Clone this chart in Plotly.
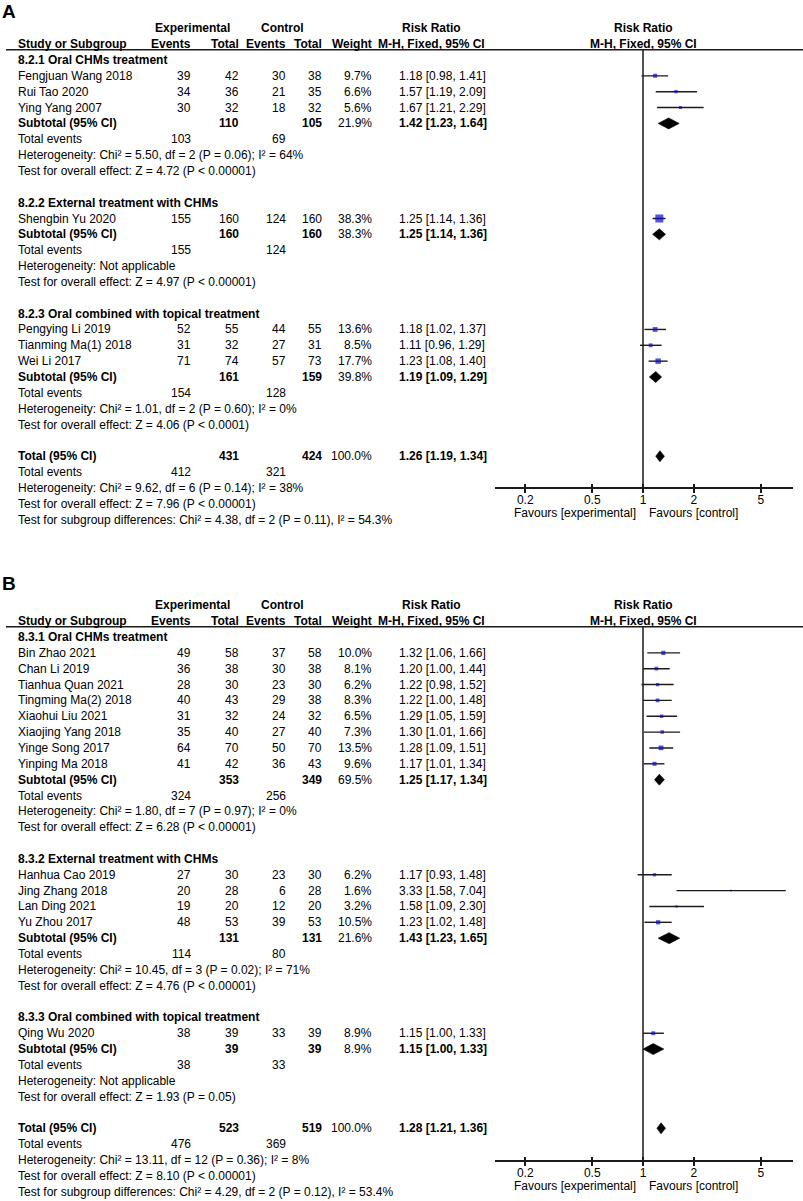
import numpy as np
import plotly.graph_objects as go

FIG_W, FIG_H = 803, 1201
FONT = "Arial, 'Liberation Sans', Helvetica, sans-serif"

# ---------------- Panel A data ----------------
A_group_names = ["8.2.1 Oral CHMs treatment",
                 "8.2.2 External treatment with CHMs",
                 "8.2.3 Oral combined with topical treatment"]
A_studies = [["Fengjuan Wang 2018", "Rui Tao 2020", "Ying Yang 2007"],
             ["Shengbin Yu 2020"],
             ["Pengying Li 2019", "Tianming Ma(1) 2018", "Wei Li 2017"]]
A_exp_events = [[39, 34, 30], [155], [52, 31, 71]]
A_exp_total = [[42, 36, 32], [160], [55, 32, 74]]
A_ctl_events = [[30, 21, 18], [124], [44, 27, 57]]
A_ctl_total = [[38, 35, 32], [160], [55, 31, 73]]
A_weight = [[9.7, 6.6, 5.6], [38.3], [13.6, 8.5, 17.7]]
A_rr = [[1.18, 1.57, 1.67], [1.25], [1.18, 1.11, 1.23]]
A_lo = [[0.98, 1.19, 1.21], [1.14], [1.02, 0.96, 1.08]]
A_hi = [[1.41, 2.09, 2.29], [1.36], [1.37, 1.29, 1.40]]
A_sub_exp_total = [110, 160, 161]
A_sub_ctl_total = [105, 160, 159]
A_sub_weight = [21.9, 38.3, 39.8]
A_sub_rr = [1.42, 1.25, 1.19]
A_sub_lo = [1.23, 1.14, 1.09]
A_sub_hi = [1.64, 1.36, 1.29]
A_sub_exp_events = [103, 155, 154]
A_sub_ctl_events = [69, 124, 128]
A_sub_het = ["Heterogeneity: Chi² = 5.50, df = 2 (P = 0.06); I² = 64%",
             "Heterogeneity: Not applicable",
             "Heterogeneity: Chi² = 1.01, df = 2 (P = 0.60); I² = 0%"]
A_sub_test = ["Test for overall effect: Z = 4.72 (P &lt; 0.00001)",
              "Test for overall effect: Z = 4.97 (P &lt; 0.00001)",
              "Test for overall effect: Z = 4.06 (P &lt; 0.0001)"]
A_tot = [431, 424, 100.0, 1.26, 1.19, 1.34]
A_tot_events = [412, 321]
A_tot_texts = ["Heterogeneity: Chi² = 9.62, df = 6 (P = 0.14); I² = 38%",
               "Test for overall effect: Z = 7.96 (P &lt; 0.00001)",
               "Test for subgroup differences: Chi² = 4.38, df = 2 (P = 0.11), I² = 54.3%"]

# ---------------- Panel B data ----------------
B_group_names = ["8.3.1 Oral CHMs treatment",
                 "8.3.2 External treatment with CHMs",
                 "8.3.3 Oral combined with topical treatment"]
B_studies = [["Bin Zhao 2021", "Chan Li 2019", "Tianhua Quan 2021", "Tingming Ma(2) 2018",
              "Xiaohui Liu 2021", "Xiaojing Yang 2018", "Yinge Song 2017", "Yinping Ma 2018"],
             ["Hanhua Cao 2019", "Jing Zhang 2018", "Lan Ding 2021", "Yu Zhou 2017"],
             ["Qing Wu 2020"]]
B_exp_events = [[49, 36, 28, 40, 31, 35, 64, 41], [27, 20, 19, 48], [38]]
B_exp_total = [[58, 38, 30, 43, 32, 40, 70, 42], [30, 28, 20, 53], [39]]
B_ctl_events = [[37, 30, 23, 29, 24, 27, 50, 36], [23, 6, 12, 39], [33]]
B_ctl_total = [[58, 38, 30, 38, 32, 40, 70, 43], [30, 28, 20, 53], [39]]
B_weight = [[10.0, 8.1, 6.2, 8.3, 6.5, 7.3, 13.5, 9.6], [6.2, 1.6, 3.2, 10.5], [8.9]]
B_rr = [[1.32, 1.20, 1.22, 1.22, 1.29, 1.30, 1.28, 1.17], [1.17, 3.33, 1.58, 1.23], [1.15]]
B_lo = [[1.06, 1.00, 0.98, 1.00, 1.05, 1.01, 1.09, 1.01], [0.93, 1.58, 1.09, 1.02], [1.00]]
B_hi = [[1.66, 1.44, 1.52, 1.48, 1.59, 1.66, 1.51, 1.34], [1.48, 7.04, 2.30, 1.48], [1.33]]
B_sub_exp_total = [353, 131, 39]
B_sub_ctl_total = [349, 131, 39]
B_sub_weight = [69.5, 21.6, 8.9]
B_sub_rr = [1.25, 1.43, 1.15]
B_sub_lo = [1.17, 1.23, 1.00]
B_sub_hi = [1.34, 1.65, 1.33]
B_sub_exp_events = [324, 114, 38]
B_sub_ctl_events = [256, 80, 33]
B_sub_het = ["Heterogeneity: Chi² = 1.80, df = 7 (P = 0.97); I² = 0%",
             "Heterogeneity: Chi² = 10.45, df = 3 (P = 0.02); I² = 71%",
             "Heterogeneity: Not applicable"]
B_sub_test = ["Test for overall effect: Z = 6.28 (P &lt; 0.00001)",
              "Test for overall effect: Z = 4.76 (P &lt; 0.00001)",
              "Test for overall effect: Z = 1.93 (P = 0.05)"]
B_tot = [523, 519, 100.0, 1.28, 1.21, 1.36]
B_tot_events = [476, 369]
B_tot_texts = ["Heterogeneity: Chi² = 13.11, df = 12 (P = 0.36); I² = 8%",
               "Test for overall effect: Z = 8.10 (P &lt; 0.00001)",
               "Test for subgroup differences: Chi² = 4.29, df = 2 (P = 0.12), I² = 53.4%"]

AXIS_TICKS = [0.2, 0.5, 1, 2, 5]
AXIS_TICKTEXT = ["0.2", "0.5", "1", "2", "5"]

# ---------------- layout constants (pixels) ----------------
ROW_PX = 15.85
COL_NAME_L = 17
COL_EXP_EV_R = 192
COL_EXP_TOT_R = 240
COL_CTL_EV_R = 287
COL_CTL_TOT_R = 323
COL_W_R = 373
COL_RR_L = 398
HDR_RR_C = 431
PLOT_L, PLOT_R = 494.5, 792.5
X_ONE = 643.0
PX_PER_DEC = 168.5
BLUE = "#0A0ACD"
LINE_C = "#1a1a1a"

fig = go.Figure()
annotations = []
shapes = []


def px(x):
    return x / FIG_W


def py(ypix):
    return 1 - ypix / FIG_H


def build_panel(idx, label, label_px, first_px, axis_px, groups, studies, ee, et, ce, ct, w,
                rr, lo, hi, s_et, s_ct, s_w, s_rr, s_lo, s_hi, s_ee, s_ce, s_het, s_test,
                tot, tot_ev, tot_txt):
    xname = "x" if idx == 1 else f"x{idx}"
    yname = "y" if idx == 1 else f"y{idx}"
    top_row = -0.65
    bottom_row = (axis_px - first_px) / ROW_PX
    top_px = first_px + top_row * ROW_PX

    def ann(text, xp, row, anchor, bold=False, size=12):
        annotations.append(dict(
            text=f"<b>{text}</b>" if bold else text,
            x=px(xp), xref="paper", y=py(first_px + row * ROW_PX), yref="paper",
            xanchor=anchor, yanchor="middle", showarrow=False,
            font=dict(family=FONT, size=size, color="#000"), borderpad=0))

    def rrtxt(r, l, h):
        return f"{r:.2f} [{l:.2f}, {h:.2f}]"

    # headers
    for xp, t in [(COL_EXP_EV_R, "Experimental"), (282, "Control"),
                  (HDR_RR_C, "Risk Ratio"), (X_ONE, "Risk Ratio")]:
        ann(t, xp, -2.02, "center", bold=True)
    for xp, t, anc in [(COL_NAME_L, "Study or Subgroup", "left"), (COL_EXP_EV_R, "Events", "right"),
                       (COL_EXP_TOT_R, "Total", "right"), (COL_CTL_EV_R, "Events", "right"),
                       (COL_CTL_TOT_R, "Total", "right"), (COL_W_R, "Weight", "right"),
                       (HDR_RR_C, "M-H, Fixed, 95% CI", "center"), (X_ONE, "M-H, Fixed, 95% CI", "center")]:
        ann(t, xp, -1.0, anc, bold=True)

    ci_x, ci_y = [], []
    sq_x, sq_y, sq_s = [], [], []
    diamonds = []
    r = 0
    for g in range(len(groups)):
        ann(groups[g], COL_NAME_L, r, "left", bold=True)
        r += 1
        for i, name in enumerate(studies[g]):
            ann(name, COL_NAME_L, r, "left")
            ann(str(ee[g][i]), COL_EXP_EV_R, r, "right")
            ann(str(et[g][i]), COL_EXP_TOT_R, r, "right")
            ann(str(ce[g][i]), COL_CTL_EV_R, r, "right")
            ann(str(ct[g][i]), COL_CTL_TOT_R, r, "right")
            ann(f"{w[g][i]:.1f}%", COL_W_R, r, "right")
            ann(rrtxt(rr[g][i], lo[g][i], hi[g][i]), COL_RR_L, r, "left")
            ci_x += [lo[g][i], hi[g][i], None]
            ci_y += [r, r, None]
            sq_x.append(rr[g][i]); sq_y.append(r); sq_s.append(1.3 * np.sqrt(w[g][i]))
            r += 1
        ann("Subtotal (95% CI)", COL_NAME_L, r, "left", bold=True)
        ann(str(s_et[g]), COL_EXP_TOT_R, r, "right", bold=True)
        ann(str(s_ct[g]), COL_CTL_TOT_R, r, "right", bold=True)
        ann(f"{s_w[g]:.1f}%", COL_W_R, r, "right")
        ann(rrtxt(s_rr[g], s_lo[g], s_hi[g]), COL_RR_L, r, "left", bold=True)
        diamonds.append((s_rr[g], s_lo[g], s_hi[g], r))
        ann("Total events", COL_NAME_L, r + 1, "left")
        ann(str(s_ee[g]), COL_EXP_EV_R, r + 1, "right")
        ann(str(s_ce[g]), COL_CTL_EV_R, r + 1, "right")
        ann(s_het[g], COL_NAME_L, r + 2, "left")
        ann(s_test[g], COL_NAME_L, r + 3, "left")
        r += 5
    ann("Total (95% CI)", COL_NAME_L, r, "left", bold=True)
    ann(str(tot[0]), COL_EXP_TOT_R, r, "right", bold=True)
    ann(str(tot[1]), COL_CTL_TOT_R, r, "right", bold=True)
    ann(f"{tot[2]:.1f}%", COL_W_R, r, "right")
    ann(rrtxt(tot[3], tot[4], tot[5]), COL_RR_L, r, "left", bold=True)
    diamonds.append((tot[3], tot[4], tot[5], r))
    ann("Total events", COL_NAME_L, r + 1, "left")
    ann(str(tot_ev[0]), COL_EXP_EV_R, r + 1, "right")
    ann(str(tot_ev[1]), COL_CTL_EV_R, r + 1, "right")
    for k, t in enumerate(tot_txt):
        ann(t, COL_NAME_L, r + 2 + k, "left")

    # vertical line of no effect
    fig.add_trace(go.Scatter(x=[1, 1], y=[top_row, bottom_row], mode="lines",
                             line=dict(color=LINE_C, width=1.5), xaxis=xname, yaxis=yname,
                             hoverinfo="skip", showlegend=False, cliponaxis=False))
    # CI lines
    fig.add_trace(go.Scatter(x=ci_x, y=ci_y, mode="lines", line=dict(color=LINE_C, width=1.4),
                             xaxis=xname, yaxis=yname, hoverinfo="skip", showlegend=False))
    # squares
    fig.add_trace(go.Scatter(x=sq_x, y=sq_y, mode="markers",
                             marker=dict(symbol="square", size=sq_s, color=BLUE, line=dict(width=0)),
                             xaxis=xname, yaxis=yname, hoverinfo="skip", showlegend=False))
    # diamonds
    hh = 5.5 / ROW_PX
    for (e, l, h, rw) in diamonds:
        fig.add_trace(go.Scatter(x=[l, e, h, e, l], y=[rw, rw - hh, rw, rw + hh, rw],
                                 mode="lines", fill="toself", fillcolor="#000",
                                 line=dict(color="#000", width=0.6),
                                 xaxis=xname, yaxis=yname, hoverinfo="skip", showlegend=False))

    r0 = (PLOT_L - X_ONE) / PX_PER_DEC
    r1 = (PLOT_R - X_ONE) / PX_PER_DEC
    xa = dict(type="log", range=[r0, r1], domain=[px(PLOT_L), px(PLOT_R)], anchor=yname,
              showline=True, linecolor=LINE_C, linewidth=1.5, mirror=False,
              ticks="outside", ticklen=4, tickwidth=1.5, tickcolor=LINE_C,
              tickmode="array", tickvals=AXIS_TICKS, ticktext=AXIS_TICKTEXT,
              tickfont=dict(family=FONT, size=12, color="#000"), ticklabelstandoff=-3,
              minor=dict(ticks="inside", ticklen=3, tickwidth=1.5, tickcolor=LINE_C,
                         tickmode="array", tickvals=AXIS_TICKS, showgrid=False),
              showgrid=False, zeroline=False, fixedrange=True)
    ya = dict(range=[bottom_row, top_row], domain=[py(axis_px), py(top_px)],
              anchor=xname, visible=False, showgrid=False, zeroline=False, fixedrange=True)
    fig.update_layout(**{("xaxis" if idx == 1 else f"xaxis{idx}"): xa,
                         ("yaxis" if idx == 1 else f"yaxis{idx}"): ya})

    # header rule
    shapes.append(dict(type="line", xref="paper", x0=px(6), x1=1.0,
                       yref=f"{yname} domain", y0=1, y1=1,
                       line=dict(color=LINE_C, width=1.5)))
    # favours labels
    fav_y = py(axis_px + 26)
    annotations.append(dict(text="Favours [experimental]", x=0, xref=xname, y=fav_y, yref="paper",
                            xanchor="right", yanchor="middle", xshift=-6, showarrow=False,
                            font=dict(family=FONT, size=12, color="#000"), borderpad=0))
    annotations.append(dict(text="Favours [control]", x=0, xref=xname, y=fav_y, yref="paper",
                            xanchor="left", yanchor="middle", xshift=5, showarrow=False,
                            font=dict(family=FONT, size=12, color="#000"), borderpad=0))
    # panel letter
    annotations.append(dict(text=f"<b>{label}</b>", x=px(1), xref="paper", y=py(label_px),
                            yref="paper", xanchor="left", yanchor="middle", showarrow=False,
                            font=dict(family=FONT, size=19, color="#000"), borderpad=0))


build_panel(1, "A", 11, 60, 487, A_group_names, A_studies, A_exp_events, A_exp_total, A_ctl_events,
            A_ctl_total, A_weight, A_rr, A_lo, A_hi, A_sub_exp_total, A_sub_ctl_total, A_sub_weight,
            A_sub_rr, A_sub_lo, A_sub_hi, A_sub_exp_events, A_sub_ctl_events, A_sub_het, A_sub_test,
            A_tot, A_tot_events, A_tot_texts)
build_panel(2, "B", 583, 637, 1160, B_group_names, B_studies, B_exp_events, B_exp_total, B_ctl_events,
            B_ctl_total, B_weight, B_rr, B_lo, B_hi, B_sub_exp_total, B_sub_ctl_total, B_sub_weight,
            B_sub_rr, B_sub_lo, B_sub_hi, B_sub_exp_events, B_sub_ctl_events, B_sub_het, B_sub_test,
            B_tot, B_tot_events, B_tot_texts)

fig.update_layout(width=FIG_W, height=FIG_H, margin=dict(l=0, r=0, t=0, b=0),
                  paper_bgcolor="white", plot_bgcolor="white", showlegend=False,
                  annotations=annotations, shapes=shapes,
                  font=dict(family=FONT, size=12, color="#000"))

fig.write_html("out.html", include_plotlyjs=True, config={"displayModeBar": False},
               post_script="document.body.style.margin='0';document.body.style.overflow='hidden';")
